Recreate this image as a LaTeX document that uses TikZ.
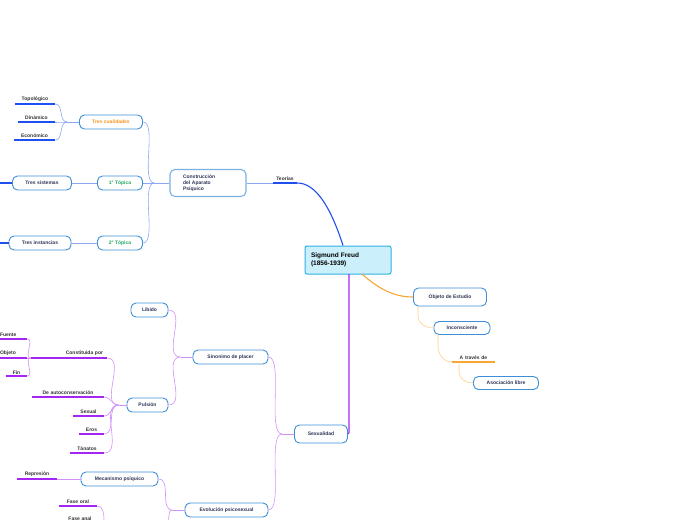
\documentclass[tikz,border=0pt]{standalone}
\usepackage{fontspec}
\setmainfont{Liberation Sans}
\begin{document}
\begin{tikzpicture}[x=1pt,y=-1pt,font=\fontsize{5}{6}\selectfont\bfseries,
  box/.style={draw=boxblue,line width=0.9pt,rounded corners=5pt,fill=white,text=navy,minimum height=14pt,inner xsep=6pt},
  ul/.style={anchor=south,inner xsep=1pt,inner ysep=1.8pt,text width=#1,align=center,text=black!80},
  bl/.style={line width=0.6pt,draw=lblue},
  bd/.style={line width=1.1pt,draw=dblue},
  pl/.style={line width=0.6pt,draw=lpurp},
  pd/.style={line width=1.1pt,draw=dpurp},
  ol/.style={line width=0.6pt,draw=lorange},
  od/.style={line width=1.1pt,draw=dorange}]
\definecolor{boxblue}{HTML}{3E8FD6}
\definecolor{navy}{HTML}{2E3556}
\definecolor{lblue}{HTML}{8DA8F2}
\definecolor{dblue}{HTML}{1F4FEF}
\definecolor{lpurp}{HTML}{D390F7}
\definecolor{dpurp}{HTML}{A526F2}
\definecolor{lorange}{HTML}{FFCF8A}
\definecolor{dorange}{HTML}{F8A535}
\definecolor{tcor}{HTML}{F7941D}
\definecolor{tgreen}{HTML}{22A860}
\useasboundingbox (0,0) rectangle (697,520);

% central
\node[draw=boxblue!70!cyan,line width=1pt,fill=cyan!20,rounded corners=2pt,minimum width=86pt,minimum height=28pt,align=left,text width=74pt,font=\fontsize{6.5}{8}\selectfont\bfseries] (freud) at (348,260) {Sigmund Freud\\(1856-1939)};

% Teorias branch
\node[ul=22pt] (teo) at (285,183) {Teorías};
\node[box,minimum height=27pt,minimum width=76pt,align=left,text width=50pt,line width=1.1pt,draw=boxblue!70] (cons) at (208,183) {Construcción\\del Aparato\\Psíquico};
\node[box,text=tcor,minimum width=63pt] (tc) at (111,122) {Tres cualidades};
\node[box,text=tgreen,minimum width=45pt] (t1) at (120,183) {1° Tópica};
\node[box,text=tgreen,minimum width=45pt] (t2) at (120,243) {2° Tópica};
\node[box,minimum width=59pt] (ts) at (42,183) {Tres sistemas};
\node[box,minimum width=62pt] (ti) at (40,243) {Tres instancias};
\coordinate (tsL) at (0,183);
\coordinate (tiL) at (0,243);
\node[ul=38pt] (topo) at (35,104) {Topológico};
\node[ul=35pt] (dina) at (36.5,122) {Dinámico};
\node[ul=39pt] (econ) at (34.5,140) {Económico};

\draw[bd] (freud.north) ++(-5,0) coordinate (fa) (fa) .. controls (330,205) and (315,183) .. (teo.south east);
\draw[bd] (teo.south east) -- (teo.south west);
\draw[bl] (teo.south west) -- (cons.east);
\draw[bl] (cons.west) -- ++(-15,0) coordinate (hc);
\draw[bl] (hc) to[out=180,in=0,looseness=0.6] (tc.east);
\draw[bl] (hc) -- (t1.east);
\draw[bl] (hc) to[out=180,in=0,looseness=0.6] (t2.east);
\draw[bl] (t1.west) -- (ts.east);
\draw[bl] (t2.west) -- (ti.east);
\draw[bd] (ts.west) -- (tsL);
\draw[bd] (ti.west) -- (tiL);
\draw[bl] (tc.west) -- ++(-12,0) coordinate (hq);
\draw[bl] (hq) to[out=180,in=0] (topo.south east);
\draw[bl] (hq) to[out=180,in=0] (dina.south east);
\draw[bl] (hq) to[out=180,in=0] (econ.south east);
\draw[bd] (topo.south west) -- (topo.south east);
\draw[bd] (dina.south west) -- (dina.south east);
\draw[bd] (econ.south west) -- (econ.south east);

% Objeto de estudio
\node[box,minimum height=18pt,minimum width=73pt] (obj) at (450,297) {Objeto de Estudio};
\node[box,minimum height=13pt,minimum width=56pt] (inc) at (462,328) {Inconsciente};
\node[ul=41pt] (atr) at (473.5,362) {A través de};
\node[box,minimum height=13pt,minimum width=65pt] (aso) at (506,383) {Asociación libre};
\draw[od] (362,274) .. controls (380,290) and (395,297) .. (obj.west);
\draw[ol] (418,306) -- (418,316) to[out=-90,in=180] (inc.west);
\draw[ol] (438,334.5) -- (438,346) to[out=-90,in=180] (atr.south west);
\draw[od] (atr.south west) -- (atr.south east);
\draw[ol] (459,362) -- (459,372) to[out=-90,in=180] (aso.west);

% Sexualidad
\node[box,minimum height=18pt,minimum width=53pt] (sex) at (321,434) {Sexualidad};
\draw[pd] (349,274) -- (349,430) to[out=-90,in=0] (sex.east);
\node[box,minimum width=75pt] (sin) at (230.5,357) {Sinonimo de placer};
\node[box,minimum width=83pt] (evo) at (226.5,510) {Evolución psicosexual};
\node[box,minimum width=37pt] (lib) at (149.5,310) {Líbido};
\node[box,minimum width=41pt] (pul) at (147.5,405) {Pulsión};
\node[box,minimum width=77pt] (mec) at (119.5,479) {Mecanismo psíquico};
\coordinate (evoD) at (165,525);

\draw[pl] (sex.west) -- ++(-12,0) coordinate (hs);
\draw[pl] (hs) to[out=180,in=0,looseness=0.5] (sin.east);
\draw[pl] (hs) to[out=180,in=0,looseness=0.5] (evo.east);
\draw[pl] (sin.west) -- ++(-12,0) coordinate (hp);
\draw[pl] (hp) to[out=180,in=0] (lib.east);
\draw[pl] (hp) to[out=180,in=0] (pul.east);
\draw[pl] (evo.west) -- ++(-12,0) coordinate (he);
\draw[pl] (he) to[out=180,in=0] (mec.east);
\draw[pl] (he) to[out=180,in=0] (evoD);

\node[ul=68pt,align=right,inner xsep=4pt] (cpor) at (69,358) {Constituida por};
\node[ul=26pt,align=left] (fue) at (13,339) {Fuente};
\node[ul=26pt,align=left] (obje) at (13,358) {Objeto};
\node[ul=19pt] (fin) at (16.5,376) {Fin};
\node[ul=70pt] (auto) at (68,397) {De autoconservación};
\node[ul=29pt] (sexu) at (88.5,416) {Sexual};
\node[ul=23pt] (eros) at (91.5,434) {Eros};
\node[ul=32pt] (tana) at (87,453) {Tánatos};
\node[ul=38pt] (rep) at (37,479) {Represión};
\node[ul=36pt] (oral) at (78,506) {Fase oral};
\node[ul=40pt,inner ysep=1pt] (anal) at (80,521.5) {Fase anal};

\draw[pl] (pul.west) -- ++(-8,0) coordinate (hu);
\foreach \n in {cpor,auto,sexu,eros,tana} {
  \draw[pl] (hu) to[out=180,in=0] (\n.south east);
  \draw[pd] (\n.south west) -- (\n.south east);
}
\foreach \n in {fue,obje,fin} {
  \draw[pl] (cpor.south west) to[out=180,in=0] (\n.south east);
  \draw[pd] (\n.south west) -- (\n.south east);
}
\draw[pl] (mec.west) -- (rep.south east);
\draw[pd] (rep.south west) -- (rep.south east);
\draw[pd] (oral.south west) -- (oral.south east);
\draw[pd] (anal.south west) -- (anal.south east);
\draw[pl] (oral.south east) to[out=0,in=90] (104,520);
\end{tikzpicture}
\end{document}
